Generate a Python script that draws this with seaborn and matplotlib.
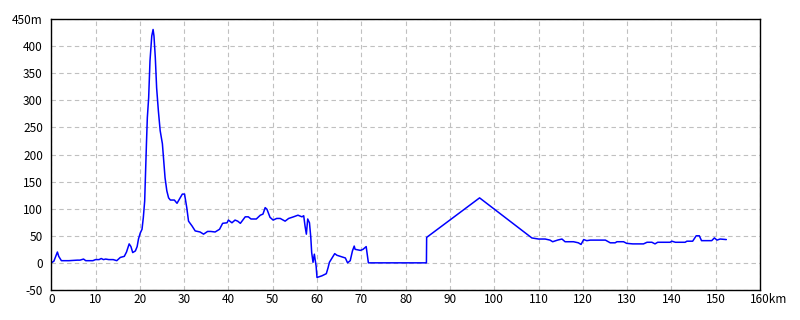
import numpy as np
import pandas as pd
import matplotlib
matplotlib.use("Agg")
import matplotlib.pyplot as plt
import matplotlib.transforms as mtransforms
import seaborn as sns

# Elevation profile: distance (km) and elevation (m)
distance_km = [
    0.0, 0.6, 1.4, 1.7, 2.3, 4.0, 5.9, 6.5, 7.3, 7.8, 9.4, 10.0, 10.8, 11.3, 11.8,
    12.3, 13.0, 14.0, 14.8, 15.6, 16.5, 17.0, 17.6, 18.0, 18.4, 19.0, 19.4, 19.7,
    20.1, 20.5, 20.8, 21.1, 21.3, 21.5, 21.7, 22.0, 22.3, 22.7, 23.0, 23.2, 23.5,
    23.8, 24.2, 24.6, 25.1, 25.4, 25.7, 26.1, 26.5, 26.9, 27.8, 28.4, 29.1, 29.6,
    30.1, 30.6, 31.0, 31.8, 32.5, 33.6, 34.4, 35.3, 36.0, 37.0, 38.0, 38.7, 39.7,
    40.0, 40.8, 41.5, 42.1, 42.7, 43.8, 44.5, 45.1, 46.3, 47.2, 47.8, 48.3, 48.7,
    49.4, 50.1, 50.9, 51.7, 52.8, 53.6, 54.7, 55.7, 56.6, 57.0, 57.3, 57.6, 57.9,
    58.3, 58.6, 58.8, 59.1, 59.4, 59.8, 60.0, 61.1, 62.1, 62.5, 62.8, 64.0, 64.5,
    65.6, 66.4, 66.9, 67.5, 68.0, 68.4, 68.6, 69.8, 70.4, 71.1, 71.6, 84.7, 84.75,
    96.7, 108.5, 110.0, 111.5, 112.6, 113.2, 114.3, 115.3, 116.0, 117.9, 119.0,
    119.6, 120.2, 120.9, 121.7, 125.1, 126.2, 127.3, 127.7, 129.2, 129.9, 131.3,
    133.7, 134.5, 135.6, 136.3, 136.9, 139.7, 140.1, 140.9, 143.1, 143.5, 144.8,
    145.6, 146.3, 146.8, 149.1, 149.7, 150.3, 151.0, 152.4,
]
elevation_m = [
    0, 3, 20, 12, 4, 4, 5, 5, 7, 4, 4, 6, 6, 8, 6,
    7, 6, 6, 4, 10, 12, 20, 35, 30, 19, 22, 30, 44,
    55, 62, 84, 114, 170, 220, 268, 305, 373, 419, 431, 419, 379,
    323, 280, 244, 220, 188, 157, 133, 120, 116, 116, 110, 120, 127,
    127, 102, 77, 68, 59, 57, 53, 58, 58, 57, 62, 73, 74,
    79, 74, 79, 77, 73, 85, 85, 81, 81, 88, 90, 102, 99,
    84, 79, 82, 82, 77, 82, 85, 88, 85, 87, 68, 53, 81,
    74, 47, 19, 1, 16, -6, -27, -24, -20, -9, 1, 17, 14,
    11, 9, 0, 4, 22, 31, 25, 23, 25, 30, 0, 0, 47,
    120, 46, 44, 44, 42, 39, 42, 44, 39, 39, 37,
    34, 43, 41, 42, 42, 37, 37, 39, 39, 36, 35,
    35, 38, 38, 35, 38, 38, 40, 38, 38, 40, 40,
    50, 50, 41, 41, 46, 42, 44, 43,
]

x_ticks = [0, 10, 20, 30, 40, 50, 60, 70, 80, 90, 100, 110, 120, 130, 140, 150, 160]
x_tick_labels = ["0", "10", "20", "30", "40", "50", "60", "70", "80", "90", "100",
                 "110", "120", "130", "140", "150", "160km"]
y_ticks = [-50, 0, 50, 100, 150, 200, 250, 300, 350, 400, 450]
y_tick_labels = ["-50", "0", "50", "100", "150", "200", "250", "300", "350", "400", "450m"]

df = pd.DataFrame({"km": distance_km, "m": elevation_m})

sns.set_style("white")
plt.rcParams["font.family"] = ["Noto Sans CJK JP", "DejaVu Sans"]

fig = plt.figure(figsize=(8, 3.2), dpi=100)
ax = fig.add_axes([0.064, 0.094, 0.886, 0.846])

sns.lineplot(data=df, x="km", y="m", ax=ax, color="#0000ff", linewidth=1.1,
             estimator=None, sort=False)

ax.set_xlim(0, 160)
ax.set_ylim(-50, 450)
ax.set_xticks(x_ticks)
ax.set_xticklabels(x_tick_labels)
ax.set_yticks(y_ticks)
ax.set_yticklabels(y_tick_labels)
ax.tick_params(axis="both", length=0, labelsize=8.5, colors="black")
ax.tick_params(axis="x", pad=2)
ax.tick_params(axis="y", pad=6)
ax.set_xlabel("")
ax.set_ylabel("")
ax.grid(True, color="#c0c0c0", linestyle=(0, (4, 3)), linewidth=0.8)
for s in ax.spines.values():
    s.set_color("black")
    s.set_linewidth(1.0)
    s.set_visible(True)

# shift "160km" so that the number sits on the tick and the unit hangs right
lbl = ax.get_xticklabels()[-1]
lbl.set_transform(lbl.get_transform() +
                  mtransforms.ScaledTranslation(6 / 72, 0, fig.dpi_scale_trans))

fig.savefig("out.png", dpi=100, facecolor="white")
